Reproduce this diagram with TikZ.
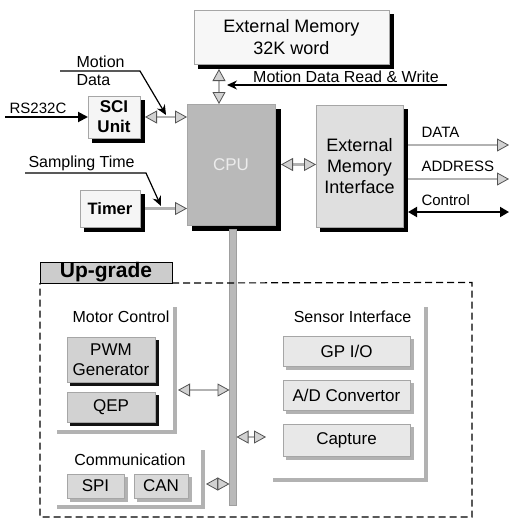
\documentclass[tikz,border=0pt]{standalone}
\usepackage{fontspec}
\setmainfont{Liberation Sans}
\usetikzlibrary{arrows.meta}
\begin{document}
\begin{tikzpicture}[x=1pt,y=-1pt,
  box/.style={draw=gray!70, line width=0.5pt, inner sep=0pt, outer sep=0pt, align=center},
  shadowrect/.style={draw=none},
  fa/.style={font=\fontsize{15}{18}\selectfont},
  fb/.style={font=\fontsize{16}{19}\selectfont},
  fc/.style={font=\fontsize{17}{20}\selectfont},
  fd/.style={font=\fontsize{18}{22}\selectfont},
  bracket/.style={draw=gray!60, line width=3.5pt},
  garrow2/.style={draw=gray!60, line width=2.4pt,
    {Triangle[length=12pt,width=13pt,color=gray!65!black,fill=gray!35,line width=0.8pt]}-{Triangle[length=12pt,width=13pt,color=gray!65!black,fill=gray!35,line width=0.8pt]}},
  garrow1/.style={draw=gray!60, line width=2.4pt,
    -{Triangle[length=12pt,width=13pt,color=gray!65!black,fill=gray!35,line width=0.8pt]}},
  blkarrow/.style={draw=black, line width=1.2pt, -{Stealth[length=10pt,width=9pt]}},
  blkthick/.style={draw=black, line width=2pt, -{Triangle[length=10pt,width=10pt]}},
  blkdouble/.style={draw=black, line width=1.8pt, {Triangle[length=9pt,width=10pt]}-{Triangle[length=9pt,width=10pt]}}
]
\useasboundingbox[fill=white] (0,0) rectangle (510,520);

% shadows drawn first as offset rectangles
\fill[shadowrect, fill=black] (198,14) rectangle (394,69);
\fill[shadowrect, fill=black] (92,100) rectangle (145,143);
\fill[shadowrect, fill=black] (84,194) rectangle (145,232);
\fill[shadowrect, fill=black] (192,109) rectangle (281,231);
\fill[shadowrect, fill=black] (320,109) rectangle (408,232);
\fill[shadowrect, fill=gray!15!black] (70,340) rectangle (159,386);
\fill[shadowrect, fill=gray!15!black] (70,395) rectangle (159,426);
\fill[shadowrect, fill=gray!60] (70,477) rectangle (128,502);
\fill[shadowrect, fill=gray!60] (137,477) rectangle (192,502);
\fill[shadowrect, fill=gray!60] (286,339) rectangle (414,370);
\fill[shadowrect, fill=gray!60] (286,383) rectangle (414,414);
\fill[shadowrect, fill=gray!60] (286,427) rectangle (414,460);

% boxes
\node[box, fill=gray!6, minimum width=195pt, minimum height=54pt, fd] (mem) at (291.5,37) {External Memory\\32K word};
\node[box, fill=gray!8, minimum width=52pt, minimum height=42pt, font=\fontsize{17}{20}\selectfont\bfseries] (sci) at (114,117) {SCI\\Unit};
\node[box, fill=gray!8, minimum width=60pt, minimum height=37pt, font=\fontsize{16.5}{20}\selectfont\bfseries] (timer) at (110,208.5) {Timer};
\node[box, fill=gray!55, minimum width=88pt, minimum height=121pt, fc, text=gray!15] (cpu) at (231,164.5) {CPU};
\node[box, fill=gray!25, minimum width=87pt, minimum height=122pt, font=\fontsize{18}{21}\selectfont] (emi) at (359.5,166) {External\\Memory\\Interface};

% bus
\node[box, fill=gray!55, draw=gray!75, minimum width=7pt, minimum height=276pt] (bus) at (233,367) {};

% upgrade
\node[box, draw=black, fill=gray!40, minimum width=132pt, minimum height=21pt, font=\fontsize{21}{24}\selectfont\bfseries] (up) at (106,272.5) {Up-grade};
\draw[dashed, dash pattern=on 7pt off 4pt, line width=1.2pt] (up.south east) -- (472,282.5) -- (472,517) -- (40,517) -- (up.south west);

% motor control group
\draw[bracket] (175,307) -- (175,432) -- (57,432);
\node[fb, anchor=east] (mctl) at (173,317) {Motor Control};
\node[box, fill=gray!35, minimum width=88pt, minimum height=45pt, fc] (pwm) at (111,359.5) {PWM\\Generator};
\node[box, fill=gray!35, minimum width=88pt, minimum height=30pt, fc] (qep) at (111,407) {QEP};

% communication group
\draw[bracket] (203,450) -- (203,507) -- (57,507);
\node[fb] (comm) at (130,460) {Communication};
\node[box, fill=gray!30, minimum width=57pt, minimum height=24pt, fc] (spi) at (95.5,486) {SPI};
\node[box, fill=gray!30, minimum width=54pt, minimum height=24pt, fc] (can) at (161,486) {CAN};

% sensor interface group
\draw[bracket] (426,307) -- (426,480) -- (273,480);
\node[fb] (sens) at (352.5,317) {Sensor Interface};
\node[box, fill=gray!18, minimum width=127pt, minimum height=30pt, fc] (gpio) at (346.5,351) {GP I/O};
\node[box, fill=gray!18, minimum width=127pt, minimum height=30pt, fc] (adc) at (346.5,395) {A/D Convertor};
\node[box, fill=gray!18, minimum width=127pt, minimum height=32pt, fc] (cap) at (346.5,440) {Capture};

% labels
\node[fb, anchor=west] (lmotion) at (73,62) {Motion};
\node[fb, anchor=west] (ldata) at (73,80) {Data};
\node[fa] (lrs) at (38,108) {RS232C};
\node[fb, anchor=west] (lsamp) at (25,163) {Sampling Time};
\node[fb, anchor=south west, inner sep=1pt] (lmdrw) at (252,84) {Motion Data Read \& Write};
\node[fa, anchor=west] (ldat) at (418,132) {DATA};
\node[fa, anchor=west] (ladr) at (418,166) {ADDRESS};
\node[fa, anchor=west] (lctl) at (418,200) {Control};

% coordinates
\coordinate (mx) at (219,0);
\coordinate (mdw) at (447,85);
\coordinate (mdtip) at (227,85);
\coordinate (md0) at (60,71);
\coordinate (md1) at (140,71);
\coordinate (md2) at (166,115);
\coordinate (st0) at (25,173);
\coordinate (st1) at (146,173);
\coordinate (st2) at (161,206);
\coordinate (rs) at (5,117);
\coordinate (dataend) at (509,145);
\coordinate (adrend) at (509,179);
\coordinate (ctlend) at (509,212);
\coordinate (emiout) at (408,0);
\coordinate (mcr) at (178,390);
\coordinate (cr) at (206,484);
\coordinate (sil) at (266,437);

% connectors
\draw[garrow2] ([yshift=-5pt]mem.south -| mx) -- (cpu.north -| mx);
\draw[line width=1.2pt, -{Stealth[length=10pt,width=9pt]}] (mdw) -- (mdtip);
\draw[blkthick] (rs) -- (sci.west);
\draw[garrow2] ([xshift=5pt]sci.east) -- (cpu.west |- sci.east);
\draw[blkarrow] (md0) -- (md1) -- (md2);
\draw[garrow1] ([xshift=5pt]timer.east) -- (cpu.west |- timer.east);
\draw[blkarrow] (st0) -- (st1) -- (st2);
\draw[garrow2] ([xshift=6pt]cpu.east) -- (emi.west |- cpu.east);
\draw[garrow1] (emiout |- dataend) -- (dataend);
\draw[garrow1] (emiout |- adrend) -- (adrend);
\draw[blkdouble] (emiout |- ctlend) -- (ctlend);
\draw[garrow2] (mcr) -- (bus.west |- mcr);
\draw[garrow2] (cr) -- (bus.west |- cr);
\draw[garrow2] (bus.east |- sil) -- (sil);
\end{tikzpicture}
\end{document}
